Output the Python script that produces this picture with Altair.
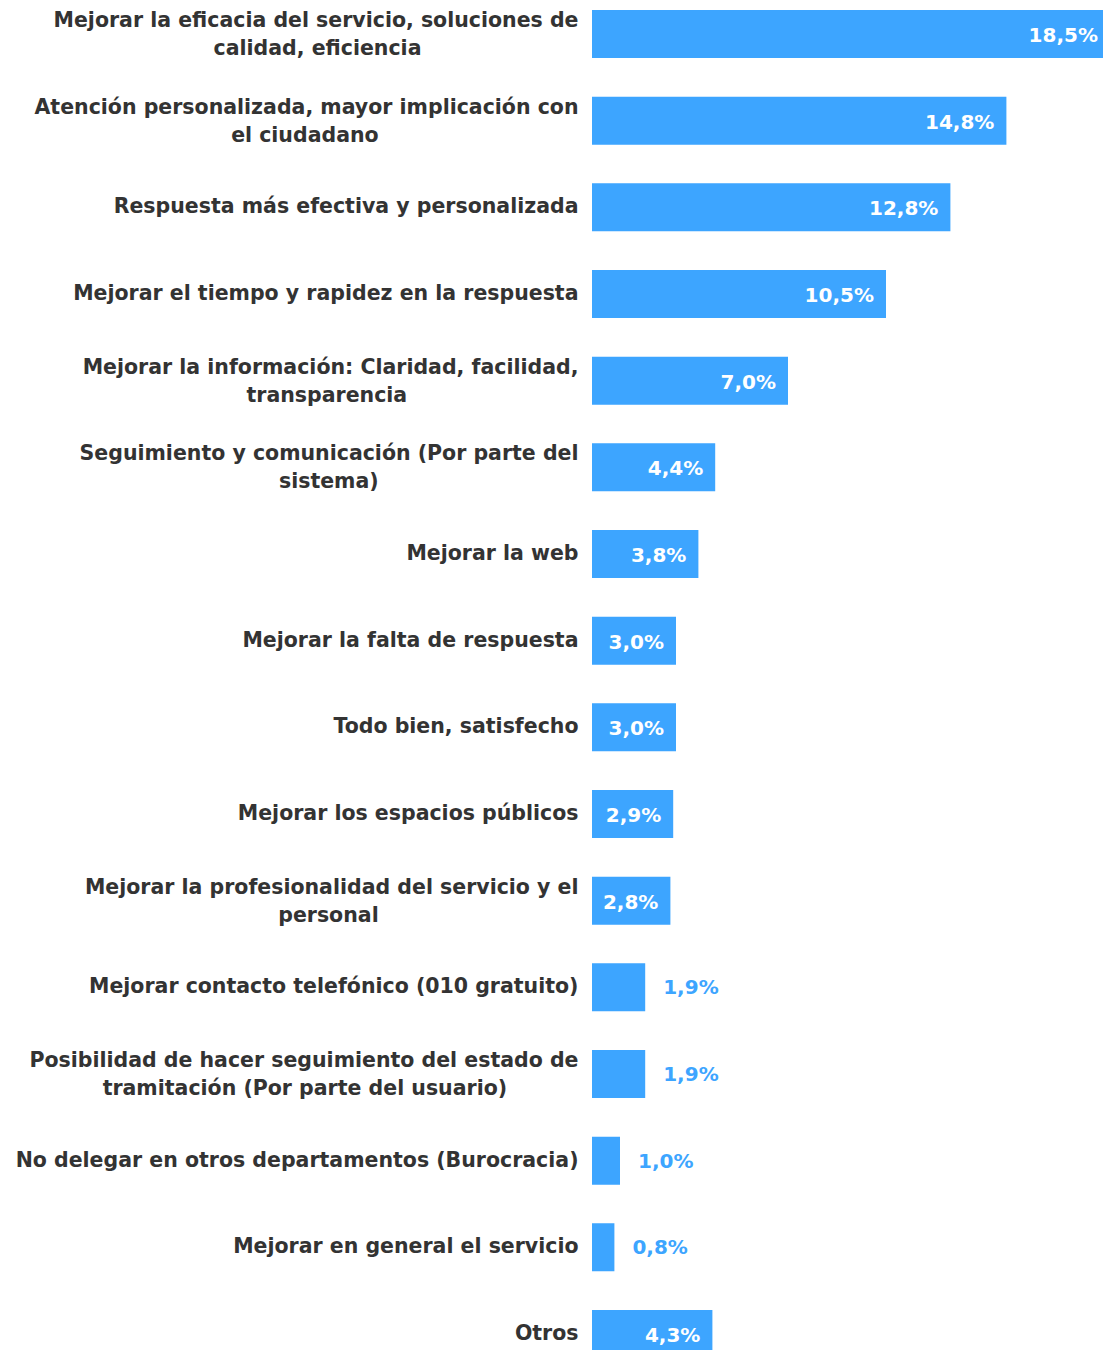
import altair as alt
import pandas as pd

# Category labels (line 1, optional line 2)
line1 = [
    "Mejorar la eficacia del servicio, soluciones de",
    "Atención personalizada, mayor implicación con",
    "Respuesta más efectiva y personalizada",
    "Mejorar el tiempo y rapidez en la respuesta",
    "Mejorar la información: Claridad, facilidad,",
    "Seguimiento y comunicación (Por parte del",
    "Mejorar la web",
    "Mejorar la falta de respuesta",
    "Todo bien, satisfecho",
    "Mejorar los espacios públicos",
    "Mejorar la profesionalidad del servicio y el",
    "Mejorar contacto telefónico (010 gratuito)",
    "Posibilidad de hacer seguimiento del estado de",
    "No delegar en otros departamentos (Burocracia)",
    "Mejorar en general el servicio",
    "Otros",
]
line2 = [
    "calidad, eficiencia",
    "el ciudadano",
    "",
    "",
    "transparencia",
    "sistema)",
    "",
    "",
    "",
    "",
    "personal",
    "",
    "tramitación (Por parte del usuario)",
    "",
    "",
    "",
]
# number of trailing no-break spaces that centre the second line under the first
line2_pad = [22, 28, 0, 0, 24, 28, 0, 0, 0, 0, 28, 0, 10, 0, 0, 0]

values = [18.5, 14.8, 12.8, 10.5, 7.0, 4.4, 3.8, 3.0, 3.0, 2.9, 2.8, 1.9, 1.9, 1.0, 0.8, 4.3]

labels = []
for a, b, p in zip(line1, line2, line2_pad):
    labels.append(a + ("\n" + b + "\u00a0" * p + "\u2060" if b else ""))

df = pd.DataFrame({
    "cat": labels,
    "value": values,
    "txt": [f"{v:.1f}".replace(".", ",") + "%" for v in values],
})

BLUE = "#3DA5FF"
FONT = "DejaVu Sans"

y = alt.Y(
    "cat:N",
    sort=labels,
    title=None,
    scale=alt.Scale(paddingInner=0.446, paddingOuter=0),
    axis=alt.Axis(
        domain=False,
        ticks=False,
        grid=False,
        labelPadding=14,
        labelFont=FONT,
        labelFontSize=20.5,
        labelFontWeight="bold",
        labelColor="#333333",
        labelLineHeight=28,
        labelLimit=800,
        labelAlign="right",
        labelBaseline="middle",
        labelOffset=alt.condition("indexof(datum.value, '\\n') >= 0", alt.value(-13), alt.value(0)),
        labelExpr="split(datum.label, '\\n')",
    ),
)
x = alt.X("value:Q", scale=alt.Scale(domain=[0, 18.25], nice=False, zero=True), axis=None)

base = alt.Chart(df)

bars = base.mark_bar(color=BLUE).encode(x=x, y=y)

inside = base.transform_filter("datum.value >= 2.5").mark_text(
    align="right", baseline="middle", dx=-12, dy=2,
    font=FONT, fontSize=20, fontWeight="bold", color="white",
).encode(x=x, y=y, text="txt:N")

outside = base.transform_filter("datum.value < 2.5").mark_text(
    align="left", baseline="middle", dx=18, dy=1,
    font=FONT, fontSize=20, fontWeight="bold", color=BLUE,
).encode(x=x, y=y, text="txt:N")

chart = (
    alt.layer(bars, inside, outside)
    .properties(
        width=511,
        height=1348,
        background="white",
        autosize=alt.AutoSizeParams(type="none"),
        padding={"left": 584, "top": 2, "right": 0, "bottom": 0},
    )
    .configure_view(stroke=None, strokeWidth=0)
    .configure_axis(grid=False, domain=False, ticks=False)
)

chart.save("out.html", embed_options={"renderer": "svg", "actions": False})
